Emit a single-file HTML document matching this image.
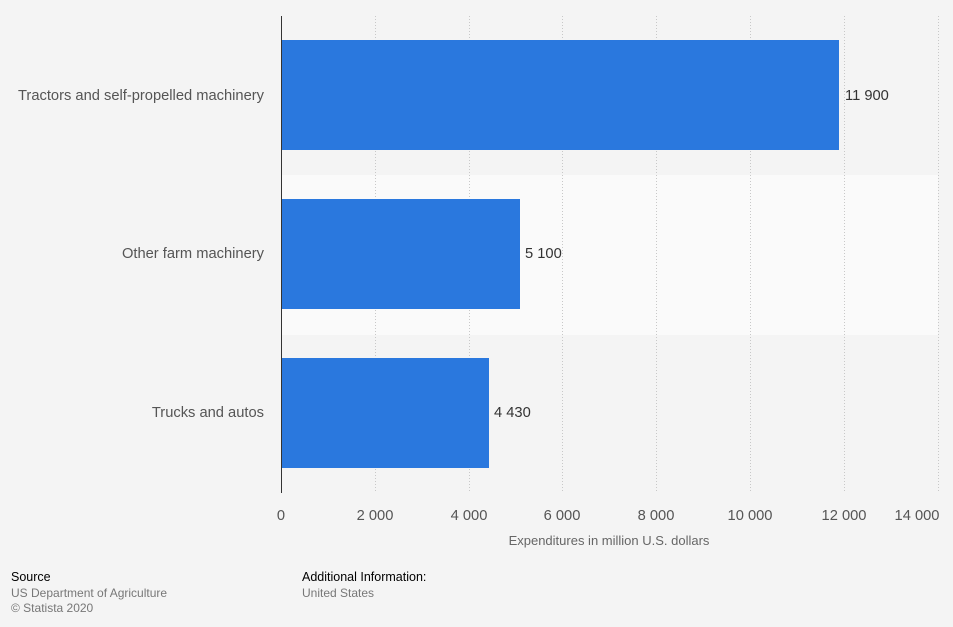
<!DOCTYPE html>
<html><head><meta charset="utf-8"><style>
body{margin:0;background:#f4f4f4;font-family:"Liberation Sans",sans-serif;}
</style></head><body>
<svg width="953" height="627" xmlns="http://www.w3.org/2000/svg" style="display:block">
<rect width="953" height="627" fill="#f4f4f4"/>
<rect x="281" y="175" width="657" height="160" fill="#fafafa"/>
<g stroke="#c8c8c8" stroke-width="1" stroke-dasharray="1,2">
<line x1="375.5" y1="16" x2="375.5" y2="493"/>
<line x1="469.5" y1="16" x2="469.5" y2="493"/>
<line x1="562.5" y1="16" x2="562.5" y2="493"/>
<line x1="656.5" y1="16" x2="656.5" y2="493"/>
<line x1="750.5" y1="16" x2="750.5" y2="493"/>
<line x1="844.5" y1="16" x2="844.5" y2="493"/>
<line x1="938.5" y1="16" x2="938.5" y2="493"/>
</g>
<g fill="#2a78de">
<rect x="281" y="40" width="558" height="110"/>
<rect x="281" y="199" width="239" height="110"/>
<rect x="281" y="358" width="208" height="110"/>
</g>
<line x1="281.5" y1="16" x2="281.5" y2="493" stroke="#333" stroke-width="1"/>
<g font-size="14.7" fill="#333">
<text x="845" y="100">11 900</text>
<text x="525" y="258">5 100</text>
<text x="494" y="417">4 430</text>
</g>
<g font-size="14.7" fill="#555" text-anchor="end">
<text x="264" y="100">Tractors and self-propelled machinery</text>
<text x="264" y="258">Other farm machinery</text>
<text x="264" y="417">Trucks and autos</text>
</g>
<g font-size="14.7" fill="#555" text-anchor="middle">
<text x="281" y="520">0</text>
<text x="375" y="520">2 000</text>
<text x="469" y="520">4 000</text>
<text x="562" y="520">6 000</text>
<text x="656" y="520">8 000</text>
<text x="750" y="520">10 000</text>
<text x="844" y="520">12 000</text>
<text x="917" y="520">14 000</text>
</g>
<text x="609" y="545" font-size="13" fill="#666" text-anchor="middle">Expenditures in million U.S. dollars</text>
<text x="11" y="581" font-size="12.5" fill="#000">Source</text>
<text x="11" y="597" font-size="12" fill="#777">US Department of Agriculture</text>
<text x="11" y="612" font-size="12" fill="#777">© Statista 2020</text>
<text x="302" y="581" font-size="12.5" fill="#000">Additional Information:</text>
<text x="302" y="597" font-size="12" fill="#777">United States</text>
</svg>
</body></html>
